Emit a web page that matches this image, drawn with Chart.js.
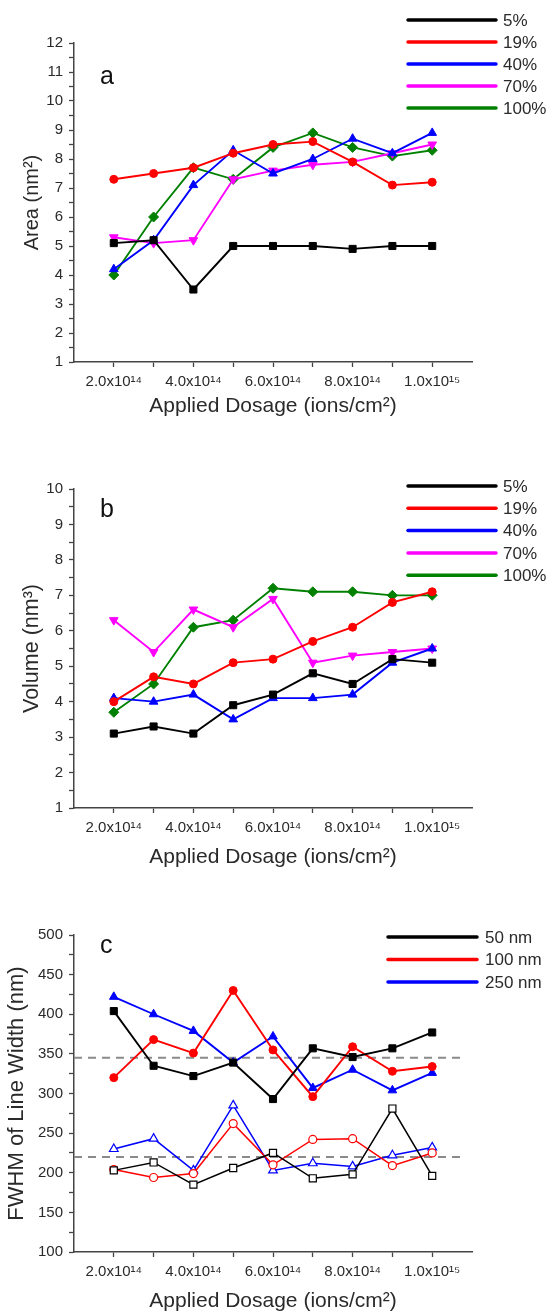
<!DOCTYPE html>
<html lang="en">
<head>
  <meta charset="UTF-8">
  <title>Area, volume and FWHM vs applied dosage</title>
  <script src="https://cdn.jsdelivr.net/npm/chart.js"></script>
  <style>
    body {
      margin: 0;
      width: 552px;
      height: 1314px;
      position: relative;
      overflow: hidden;
      background: #fff;
      font-family: "Liberation Sans", Arial, sans-serif;
    }
    .panel {
      position: absolute;
      left: 0;
      width: 552px;
    }
  </style>
</head>
<body>
  <div class="panel" style="top:0px"><canvas id="chartA" width="552" height="420"></canvas></div>
  <div class="panel" style="top:440px"><canvas id="chartB" width="552" height="440"></canvas></div>
  <div class="panel" style="top:890px"><canvas id="chartC" width="552" height="424"></canvas></div>

  <script>
    // dose values (ions/cm2)
    const doses = [2e14, 3e14, 4e14, 5e14, 6e14, 7e14, 8e14, 9e14, 1e15];
    const xTickValues = [2e14, 4e14, 6e14, 8e14, 1e15];
    const xTickLabels = ['2.0x10¹⁴', '4.0x10¹⁴', '6.0x10¹⁴', '8.0x10¹⁴', '1.0x10¹⁵'];

    // panel a - area (nm2)
    const concLabels = ['5%', '19%', '40%', '70%', '100%'];
    const area5 = [5.1, 5.2, 3.5, 5.0, 5.0, 5.0, 4.9, 5.0, 5.0];
    const area19 = [7.3, 7.5, 7.7, 8.2, 8.5, 8.6, 7.9, 7.1, 7.2];
    const area40 = [4.2, 5.2, 7.1, 8.3, 7.5, 8.0, 8.7, 8.2, 8.9];
    const area70 = [5.3, 5.1, 5.2, 7.3, 7.6, 7.8, 7.9, 8.2, 8.5];
    const area100 = [4.0, 6.0, 7.7, 7.3, 8.4, 8.9, 8.4, 8.1, 8.3];

    // panel b - volume (nm3)
    const vol5 = [3.1, 3.3, 3.1, 3.9, 4.2, 4.8, 4.5, 5.2, 5.1];
    const vol19 = [4.0, 4.7, 4.5, 5.1, 5.2, 5.7, 6.1, 6.8, 7.1];
    const vol40 = [4.1, 4.0, 4.2, 3.5, 4.1, 4.1, 4.2, 5.1, 5.5];
    const vol70 = [6.3, 5.4, 6.6, 6.1, 6.9, 5.1, 5.3, 5.4, 5.5];
    const vol100 = [3.7, 4.5, 6.1, 6.3, 7.2, 7.1, 7.1, 7.0, 7.0];

    // panel c - FWHM of line width (nm), filled and open markers
    const widthLabels = ['50 nm', '100 nm', '250 nm'];
    const fwhm50 = [404, 335, 322, 339, 293, 357, 346, 357, 377];
    const fwhm100 = [320, 368, 351, 430, 355, 296, 359, 328, 334];
    const fwhm250 = [422, 400, 379, 339, 372, 307, 330, 304, 326];
    const fwhm50open = [203, 213, 185, 206, 225, 193, 198, 281, 196];
    const fwhm100open = [204, 194, 199, 262, 210, 242, 243, 209, 225];
    const fwhm250open = [230, 243, 203, 285, 203, 212, 208, 222, 232];
    const refLevels = [345, 220];
    const refStart = 1e14;
    const refEnd = 1.07e15;

    const FONT = '"Liberation Sans", Arial, sans-serif';
    const AXIS = '#444';
    const TEXT = '#2a2a2a';

    function series(label, values, color, style, rotation, open, radius) {
      return {
        label: label,
        data: doses.map((d, i) => ({ x: d, y: values[i] })),
        borderColor: color,
        backgroundColor: color,
        pointBackgroundColor: open ? '#fff' : color,
        pointBorderColor: color,
        pointStyle: style,
        rotation: rotation || 0,
        pointRadius: radius || 5,
        pointBorderWidth: open ? 1.2 : 1,
        borderWidth: open ? 1.5 : 1.9,
        tension: 0
      };
    }

    // draws the panel letter and the line legend in the top right corner
    const panelDecor = {
      id: 'panelDecor',
      afterDraw(chart, args, o) {
        const ctx = chart.ctx;
        ctx.save();
        ctx.fillStyle = '#111';
        ctx.textBaseline = 'middle';
        ctx.textAlign = 'left';
        ctx.font = '25px ' + FONT;
        ctx.fillText(o.letter, o.letterX, o.letterY);

        let y = o.legendY;
        ctx.font = '17px ' + FONT;
        chart.data.datasets.forEach(ds => {
          if (!ds.label) return;
          ctx.strokeStyle = ds.borderColor;
          ctx.lineWidth = 3.5;
          ctx.lineCap = 'round';
          ctx.beginPath();
          ctx.moveTo(o.lineX0, y);
          ctx.lineTo(o.lineX1, y);
          ctx.stroke();
          ctx.fillStyle = TEXT;
          ctx.fillText(ds.label, o.textX, y + 1);
          y += o.legendStep;
        });
        ctx.restore();
      }
    };

    function makeChart(id, datasets, p) {
      return new Chart(document.getElementById(id), {
        type: 'line',
        data: { datasets: datasets },
        options: {
          responsive: false,
          animation: false,
          layout: { padding: { top: p.top, right: 80, bottom: 0, left: 0 } },
          plugins: {
            legend: { display: false },
            tooltip: { enabled: false },
            panelDecor: p.decor
          },
          scales: {
            x: {
              type: 'linear',
              min: 1e14,
              max: 1.1e15,
              afterFit: s => { s.height = p.xHeight; },
              afterBuildTicks: s => {
                s.ticks = s.ticks.filter(t => t.value > 1.5e14 && t.value < 1.05e15);
              },
              ticks: {
                stepSize: 1e14,
                autoSkip: false,
                maxRotation: 0,
                padding: 6,
                color: TEXT,
                font: { family: FONT, size: 15 },
                callback: v => {
                  const i = xTickValues.findIndex(t => Math.abs(t - v) < 1e12);
                  return i >= 0 ? xTickLabels[i] : '';
                }
              },
              grid: { drawOnChartArea: false, tickLength: 5, tickColor: AXIS, tickWidth: 1.3 },
              border: { color: AXIS, width: 1.5 },
              title: {
                display: true,
                text: 'Applied Dosage (ions/cm²)',
                color: TEXT,
                font: { family: FONT, size: 21 },
                padding: { top: 0, bottom: p.xTitlePad }
              }
            },
            y: {
              min: p.yMin,
              max: p.yMax,
              afterFit: s => { s.width = 74; },
              ticks: {
                stepSize: p.yStep / 2,
                autoSkip: false,
                padding: 6,
                color: TEXT,
                font: { family: FONT, size: 15 },
                callback: v => (Math.abs(v / p.yStep - Math.round(v / p.yStep)) < 1e-6 ? v : '')
              },
              grid: { drawOnChartArea: false, tickLength: 5, tickColor: AXIS, tickWidth: 1.3 },
              border: { color: AXIS, width: 1.5 },
              title: {
                display: true,
                text: p.yTitle,
                color: TEXT,
                font: { family: FONT, size: p.yTitleSize },
                padding: { top: p.yTitlePad, bottom: 0 }
              }
            }
          }
        },
        plugins: [panelDecor]
      });
    }

    const colors5 = ['#000000', '#ff0000', '#0000ff', '#ff00ff', '#008000'];

    makeChart('chartA', [
      series(concLabels[0], area5, colors5[0], 'rect', 0, false, 5),
      series(concLabels[1], area19, colors5[1], 'circle', 0, false, 4),
      series(concLabels[2], area40, colors5[2], 'triangle', 0, false, 5),
      series(concLabels[3], area70, colors5[3], 'triangle', 180, false, 5),
      series(concLabels[4], area100, colors5[4], 'rectRot', 0, false, 5)
    ], {
      top: 43, xHeight: 58, xTitlePad: 1, yMin: 1, yMax: 12, yStep: 1,
      yTitle: 'Area (nm²)', yTitleSize: 20, yTitlePad: 20,
      decor: { letter: 'a', letterX: 100, letterY: 77, legendY: 20, legendStep: 22,
               lineX0: 408, lineX1: 496, textX: 503 }
    });

    makeChart('chartB', [
      series(concLabels[0], vol5, colors5[0], 'rect', 0, false, 5),
      series(concLabels[1], vol19, colors5[1], 'circle', 0, false, 4),
      series(concLabels[2], vol40, colors5[2], 'triangle', 0, false, 5),
      series(concLabels[3], vol70, colors5[3], 'triangle', 180, false, 5),
      series(concLabels[4], vol100, colors5[4], 'rectRot', 0, false, 5)
    ], {
      top: 49, xHeight: 72, xTitlePad: 10, yMin: 1, yMax: 10, yStep: 1,
      yTitle: 'Volume (nm³)', yTitleSize: 21.5, yTitlePad: 19,
      decor: { letter: 'b', letterX: 100, letterY: 70, legendY: 46, legendStep: 22.3,
               lineX0: 408, lineX1: 496, textX: 503 }
    });

    const refSets = refLevels.map(v => ({
      label: '',
      data: [{ x: refStart, y: v }, { x: refEnd, y: v }],
      borderColor: '#8a8a8a',
      borderDash: [8, 6],
      borderWidth: 2,
      pointRadius: 0
    }));

    makeChart('chartC', [
      series(widthLabels[0], fwhm50, '#000000', 'rect', 0, false, 5),
      series(widthLabels[1], fwhm100, '#ff0000', 'circle', 0, false, 4),
      series(widthLabels[2], fwhm250, '#0000ff', 'triangle', 0, false, 5),
      series('', fwhm50open, '#000000', 'rect', 0, true, 5),
      series('', fwhm100open, '#ff0000', 'circle', 0, true, 4),
      series('', fwhm250open, '#0000ff', 'triangle', 0, true, 5)
    ].concat(refSets), {
      top: 45, xHeight: 62, xTitlePad: 0, yMin: 100, yMax: 500, yStep: 50,
      yTitle: 'FWHM of Line Width (nm)', yTitleSize: 22, yTitlePad: 4,
      decor: { letter: 'c', letterX: 100, letterY: 56, legendY: 47, legendStep: 22.5,
               lineX0: 388, lineX1: 477, textX: 485 }
    });
  </script>
</body>
</html>
